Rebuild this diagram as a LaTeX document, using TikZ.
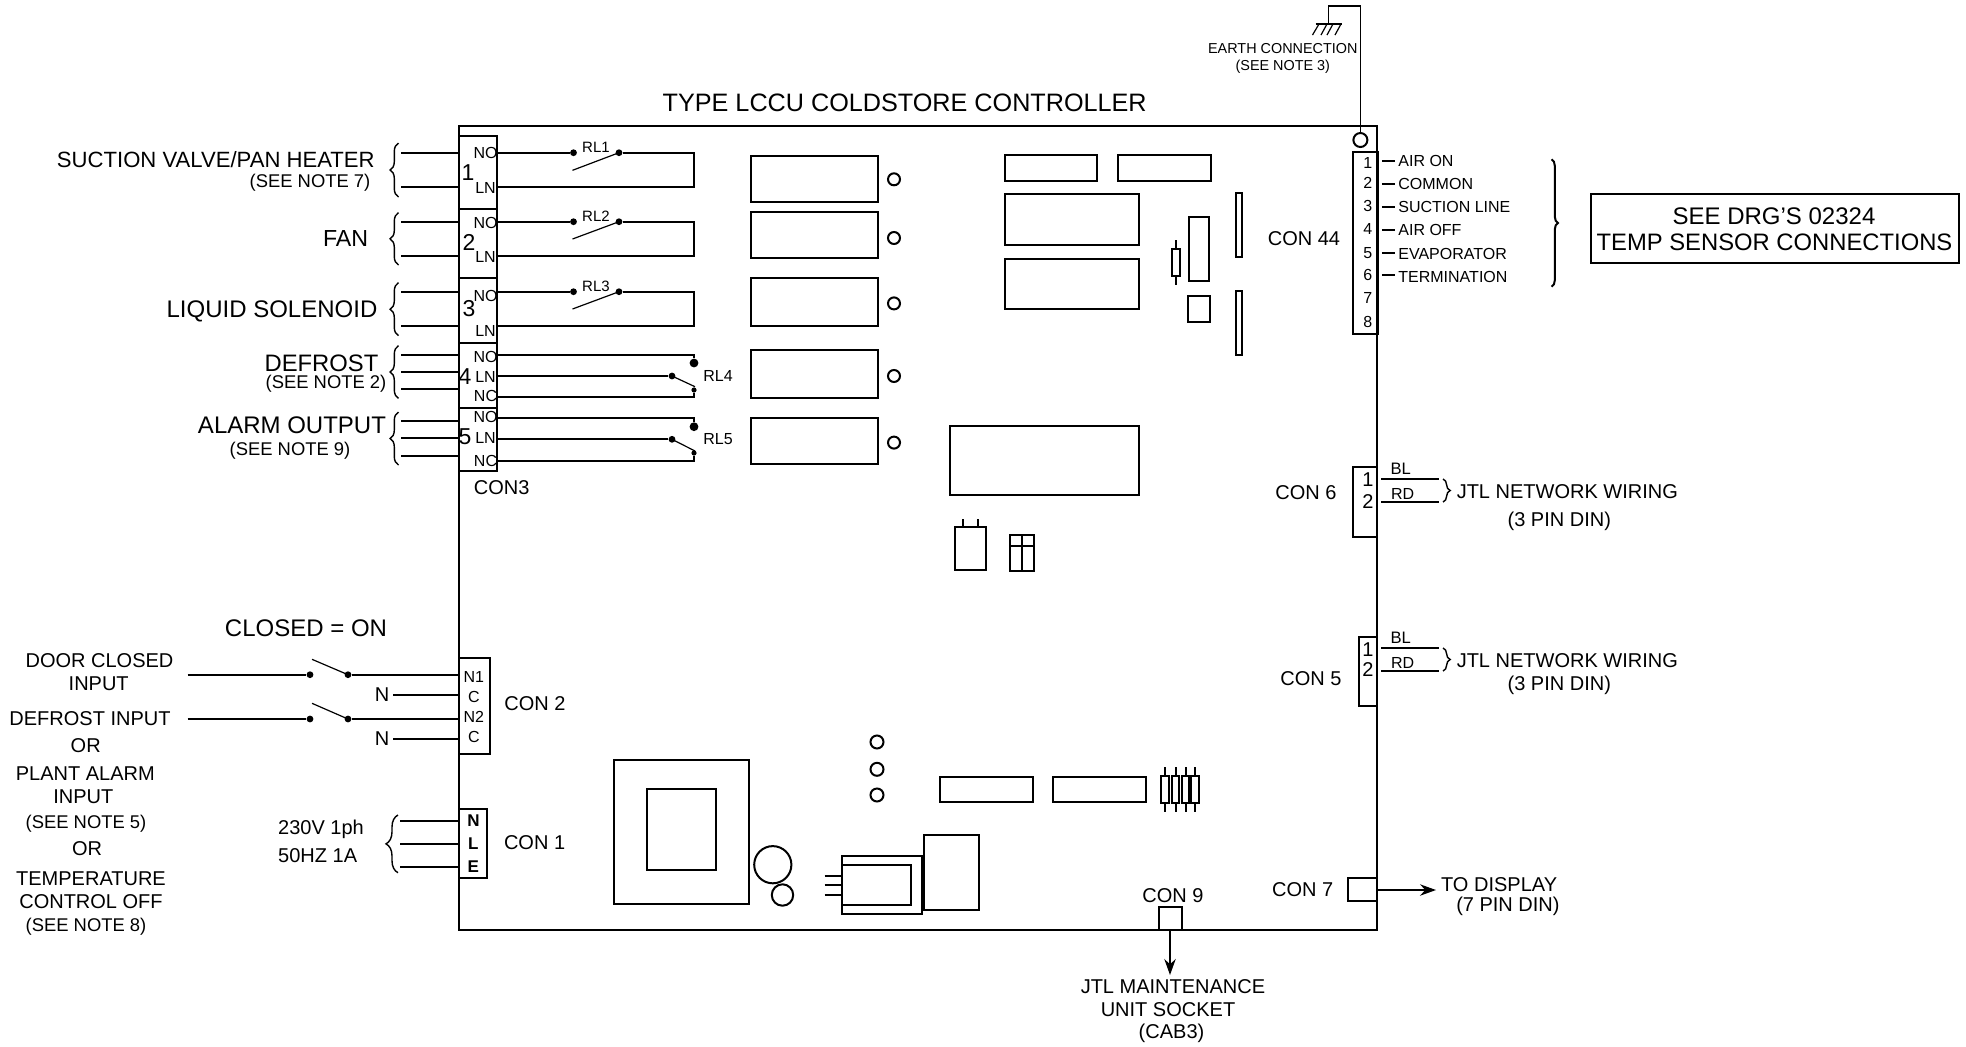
\documentclass[tikz,border=0pt]{standalone}
\usepackage{fontspec}
\setmainfont{Liberation Sans}
\usepackage{tikz}
\usetikzlibrary{arrows.meta,decorations.pathreplacing}
\tikzset{
  txt/.style={inner sep=0pt, font=\fontsize{#1}{#1}\selectfont},
  wire/.style={line width=1pt},
  thinwire/.style={line width=0.6pt},
  part/.style={line width=1pt},
  contact/.style={circle, fill=black, inner sep=0pt, minimum size=3.4pt},
  cbrace/.style={line width=0.7pt, decorate, decoration={brace, amplitude=#1}},
  outarrow/.style={line width=0.8pt, -{Stealth[length=2.8mm, width=2mm]}}
}
\begin{document}
\begin{tikzpicture}[x=0.5pt, y=-0.5pt]
\useasboundingbox (0,0) rectangle (1966,1046);
\draw[wire] (459,125.7) rectangle (1377.3,930);
\node[txt=12.6] (title) at (904.7,102.8) {TYPE LCCU COLDSTORE CONTROLLER};
% CON3 block
\draw[wire] (458.6,135.7) rectangle (497,471);
\foreach \y in {209.3,278.3,343.3,407.7}
  \draw[wire] (458.6,\y) -- (497,\y);
\node[txt=10] (con3) at (501.7,488) {CON3};
\foreach \y [count=\i] in {152.7,187.3,221.7,256,291.7,326.3,354.7,372,389.3,420.7,438.3,455.7} {
  \coordinate (ext\i) at (401,\y);
  \coordinate (term\i) at (459,\y);
  \draw[wire] (ext\i) -- (term\i);
}
\foreach \ya/\yb in {143/197,212.7/265,282.7/335.7,345.7/398.3,412/465}
  \draw[cbrace=4.2pt] (398.5,\yb) -- (398.5,\ya);
\node[txt=11.5] (n1) at (468,173) {1};
\node[txt=11.5] (n2) at (469,242) {2};
\node[txt=11.5] (n3) at (469,309) {3};
\node[txt=11.5] (n4) at (465,376.7) {4};
\node[txt=11.5] (n5) at (465,437) {5};
\foreach \lab/\y [count=\i] in {NO/153,LN/188,NO/222.7,LN/257,NO/295.7,LN/330.7,NO/357,LN/377,NC/396,NO/417,LN/438,NC/460.7}
  \node[txt=8] (pin\i) at (485.5,\y) {\lab};
% relays
\foreach \n/\ya/\yb/\yc/\yl in {1/152.7/187.3/170.3/147.7,2/221.7/256/239/216.7,3/291.7/326.3/309/286.7} {
  \coordinate (no\n) at (497,\ya);
  \coordinate (ln\n) at (497,\yb);
  \node[contact] (a\n) at (573.5,\ya) {};
  \node[contact] (b\n) at (619,\ya) {};
  \coordinate (c\n) at (694,\ya);
  \coordinate (d\n) at (694,\yb);
  \coordinate (f\n) at (572.5,\yc);
  \draw[wire] (no\n) -- (a\n);
  \draw[wire] (b\n) -- (c\n) -- (d\n) -- (ln\n);
  \draw[thinwire] (b\n.center) -- (f\n);
  \node[txt=7.5] (rl\n) at (596,\yl) {RL\n};
}
\foreach \n/\ya/\yd/\yb/\yf/\ye/\yc in {4/354.7/363/376/386.7/390/397.3,5/417.7/426.7/439.3/451/453/461} {
  \coordinate (no\n) at (497,\ya);
  \coordinate (ln\n) at (497,\yb);
  \coordinate (nc\n) at (497,\yc);
  \coordinate (c\n) at (694,\ya);
  \coordinate (d\n) at (694,\yc);
  \coordinate (f\n) at (695,\yf);
  \node[contact, minimum size=4.4pt] (a\n) at (694,\yd) {};
  \node[contact] (b\n) at (672,\yb) {};
  \node[contact, minimum size=2.6pt] (e\n) at (694,\ye) {};
  \draw[wire] (no\n) -- (c\n) -- (a\n);
  \draw[wire] (ln\n) -- (b\n);
  \draw[wire] (nc\n) -- (d\n) -- (e\n);
  \draw[thinwire] (b\n.center) -- (f\n);
  \node[txt=8] (rl\n) at (718,\yb) {RL\n};
}
% output labels
\node[txt=11.05, anchor=east] (suction) at (375,159.3) {SUCTION VALVE/PAN HEATER};
\node[txt=9.2] (note7) at (310,183) {(SEE NOTE 7)};
\node[txt=11.6] (fan) at (345.6,239) {FAN};
\node[txt=12] (liquid) at (272,311.5) {LIQUID SOLENOID};
\node[txt=11.9] (defrost) at (321.5,363) {DEFROST};
\node[txt=9.2] (note2) at (326,384) {(SEE NOTE 2)};
\node[txt=12] (alarm) at (292,425.7) {ALARM OUTPUT};
\node[txt=9.2] (note9) at (290,450.7) {(SEE NOTE 9)};
% board parts
\foreach \xa/\ya/\xb/\yb in {751/155.5/877.7/202,751/212/877.7/258,751/278/877.7/326,751/350/877.7/397.5,751/417.5/877.7/464,
  1004.7/155.3/1097.3/181,1118.3/155.3/1211/181,1004.7/194/1139.3/244.7,1004.7/258.7/1139.3/309.3,
  1171.7/249.3/1179.7/276,1188.7/217.3/1209/280.7,1188/296.3/1210/321.7,1236.3/193/1242/256.7,1236.3/291.3/1242/355,
  950.4/426.3/1138.5/495.2,955/526.7/986/570,1010/534.7/1034.3/570.7,
  939.7/776.7/1032.7/802,1053.3/776.7/1146.3/802,1161/776/1168.7/803.3,1171.7/776/1179.3/803.3,1181.7/776/1189.3/803.3,1191.3/776/1199/803.3,
  614/760/748.8/904,647/789.3/715.7/870.3,841.6/856.3/921.5/914,841.6/865.3/910.8/905.3,923.8/835.3/978.7/910}
  \draw[part] (\xa,\ya) rectangle (\xb,\yb);
\foreach \x/\y/\r in {894/179.3/6,894/238/6,894/303.4/6,894/376/6,894/442.6/6,877/742/6.5,877/769.3/6.5,877/795/6.5,772.8/864.7/18.6,782.5/895/10.7}
  \draw[part] (\x,\y) circle[radius=\r];
\draw[part] (1175.7,240) -- (1175.7,249.3) (1175.7,276) -- (1175.7,285.3);
\draw[part] (963,519.3) -- (963,526.7) (978,519.3) -- (978,526.7);
\draw[part] (1022,534.7) -- (1022,570.7) (1010,546) -- (1034.3,546);
\foreach \x in {1165,1175.5,1185.5,1195} 
  \draw[part] (\x,767.3) -- (\x,776) (\x,803.3) -- (\x,812.3);
\foreach \y in {876,885,895}
  \draw[part] (824.6,\y) -- (841.6,\y);
% earth
\node[draw, circle, part, inner sep=0pt, minimum size=7pt] (earthpt) at (1360.4,140) {};
\coordinate (earthtop) at (1360.4,6);
\coordinate (earthleft) at (1328.6,6);
\coordinate (gnd) at (1328.6,24);
\draw[thinwire] (earthpt) -- (earthtop) -- (earthleft) -- (gnd);
\draw[thinwire] (1315.6,24) -- (1341.7,24);
\foreach \xa/\xb in {1319/1312.5,1327/1321,1333/1327,1341/1335}
  \draw[thinwire] (\xa,24) -- (\xb,35);
\node[txt=7.2] (earth) at (1282.8,49) {EARTH CONNECTION};
\node[txt=7.2] (note3) at (1282.8,66.7) {(SEE NOTE 3)};
% CON 44
\draw[wire] (1353,151.7) rectangle (1377.6,334.3);
\node[txt=10] (con44) at (1304,238.3) {CON 44};
\foreach \y [count=\i] in {162.7,183.3,205.7,229,252.7,275,298.3,322}
  \node[txt=8] (s\i) at (1367.7,\y) {\i};
\foreach \lab/\y/\yw [count=\i] in {AIR ON/160.7/161,COMMON/184.3/184.3,SUCTION LINE/206.7/207.3,AIR OFF/230.3/230.3,EVAPORATOR/254.3/253.3,TERMINATION/276.7/274.7} {
  \node[txt=8, anchor=west] (sense\i) at (1398,\y) {\lab};
  \coordinate (sw\i) at (1381.8,\yw);
  \coordinate (se\i) at (1394.8,\yw);
  \draw[wire] (sw\i) -- (se\i);
}
\draw[cbrace=3.2pt, line width=1pt] (1551.6,159.3) -- (1551.6,286.7);
\node[draw, wire, minimum width=184.4pt, minimum height=34.5pt, inner sep=0pt] (seebox) at (1775,228.2) {};
\node[txt=12] (see1) at (1774,216) {SEE DRG\char39 S 02324};
\node[txt=11.9] (see2) at (1774.5,242.3) {TEMP SENSOR CONNECTIONS};
% network connectors
\draw[wire] (1377.3,467.3) -- (1353,467.3) -- (1353,537) -- (1377.3,537);
\draw[wire] (1377.3,637) -- (1359.3,637) -- (1359.3,706.3) -- (1377.3,706.3);
\foreach \tag/\xc/\yc/\ya/\yb/\yp/\yq/\yj/\yd in {6/1306/492.3/479/502/479.3/501.7/491.7/521,5/1311/678.7/648/671/649.3/670/661/685} {
  \node[txt=10] (con\tag) at (\xc,\yc) {CON \tag};
  \node[txt=10] (d\tag a) at (1368,\yp) {1};
  \node[txt=10] (d\tag b) at (1368,\yq) {2};
  \coordinate (u\tag a) at (1381.3,\ya);
  \coordinate (v\tag a) at (1439.3,\ya);
  \coordinate (u\tag b) at (1381.3,\yb);
  \coordinate (v\tag b) at (1439.3,\yb);
  \draw[wire] (u\tag a) -- (v\tag a);
  \draw[wire] (u\tag b) -- (v\tag b);
  \node[txt=8.3] (bl\tag) at (1400.7,\ya-10.7) {BL};
  \node[txt=8] (rd\tag) at (1402.7,\yb-8.5) {RD};
  \draw[cbrace=3.6pt] (1443,\ya) -- (1443,\yb);
  \node[txt=10] (jtl\tag) at (1567.3,\yj) {JTL NETWORK WIRING};
  \node[txt=10] (din\tag) at (1559.3,\yd) {(3 PIN DIN)};
}
% CON 7
\draw[wire] (1377.3,878) -- (1348,878) -- (1348,901.3) -- (1377.3,901.3);
\node[txt=10] (con7) at (1302.7,890) {CON 7};
\coordinate (dispa) at (1377.3,890);
\coordinate (dispb) at (1436,890);
\draw[outarrow] (dispa) -- (dispb);
\node[txt=10, anchor=west] (disp1) at (1440.7,884.3) {TO DISPLAY};
\node[txt=10, anchor=east] (disp2) at (1560,906.7) {(7 PIN DIN)};
% CON 9
\draw[wire] (1159,930) -- (1159,906.7) -- (1182.2,906.7) -- (1182.2,930);
\node[txt=10] (con9) at (1172.9,896) {CON 9};
\coordinate (jtla) at (1170,930);
\coordinate (jtlb) at (1170,975);
\draw[outarrow] (jtla) -- (jtlb);
\node[txt=10] (jtl1) at (1173,986.7) {JTL MAINTENANCE};
\node[txt=10] (jtl2) at (1168,1010) {UNIT SOCKET};
\node[txt=10] (jtl3) at (1171.5,1033) {(CAB3)};
% CON 2
\draw[wire] (458.8,658.3) -- (490.2,658.3) -- (490.2,754) -- (458.8,754);
\node[txt=10] (con2) at (535,704) {CON 2};
\foreach \lab/\y [count=\i] in {N1/676.7,C/696.7,N2/716.7,C/736.7}
  \node[txt=8] (inp\i) at (473.8,\y) {\lab};
\foreach \y/\yb [count=\i] in {674.7/659.3,719/703.3} {
  \coordinate (inl\i) at (187.5,\y);
  \node[contact] (sa\i) at (310,\y) {};
  \node[contact] (sb\i) at (348,\y) {};
  \coordinate (inr\i) at (459,\y);
  \coordinate (sf\i) at (312,\yb);
  \draw[wire] (inl\i) -- (sa\i);
  \draw[wire] (sb\i) -- (inr\i);
  \draw[thinwire] (sb\i.center) -- (sf\i);
}
\foreach \y/\yl [count=\i] in {695.3/695,739.3/738.3} {
  \node[txt=10] (neu\i) at (382,\yl) {N};
  \coordinate (neur\i) at (459,\y);
  \draw[wire] (393,\y) coordinate (neuw\i) -- (neur\i);
}
\node[txt=12] (closed) at (306,628.3) {CLOSED = ON};
\node[txt=10] (i1) at (99.5,660.7) {DOOR CLOSED};
\node[txt=10] (i2) at (98.7,683.3) {INPUT};
\node[txt=10] (i3) at (90,718.5) {DEFROST INPUT};
\node[txt=10] (i4) at (85.7,746) {OR};
\node[txt=10] (i5) at (85.3,773.3) {PLANT ALARM};
\node[txt=10] (i6) at (83.4,796.7) {INPUT};
\node[txt=9.2] (i7) at (86,823.5) {(SEE NOTE 5)};
\node[txt=10] (i8) at (87,848.3) {OR};
\node[txt=10] (i9) at (91,878.3) {TEMPERATURE};
\node[txt=10] (i10) at (91,901.7) {CONTROL OFF};
\node[txt=9.2] (i11) at (86,926.5) {(SEE NOTE 8)};
% CON 1
\draw[wire] (458.8,809.3) -- (487.2,809.3) -- (487.2,878) -- (458.8,878);
\node[txt=10] (con1) at (534.6,843) {CON 1};
\foreach \lab/\y [count=\i] in {N/820.7,L/843.7,E/866.7} {
  \node[txt=8.5, font=\fontsize{8.5}{8.5}\selectfont\bfseries] (sup\i) at (473.4,\y) {\lab};
  \coordinate (supl\i) at (400,\y);
  \coordinate (supr\i) at (459,\y);
  \draw[wire] (supl\i) -- (supr\i);
}
\draw[cbrace=6pt] (398,872.7) -- (398,815);
\node[txt=10, anchor=west] (v1) at (277.8,829) {230V 1ph};
\node[txt=10, anchor=west] (v2) at (277.8,855.7) {50HZ 1A};
\end{tikzpicture}
\end{document}
